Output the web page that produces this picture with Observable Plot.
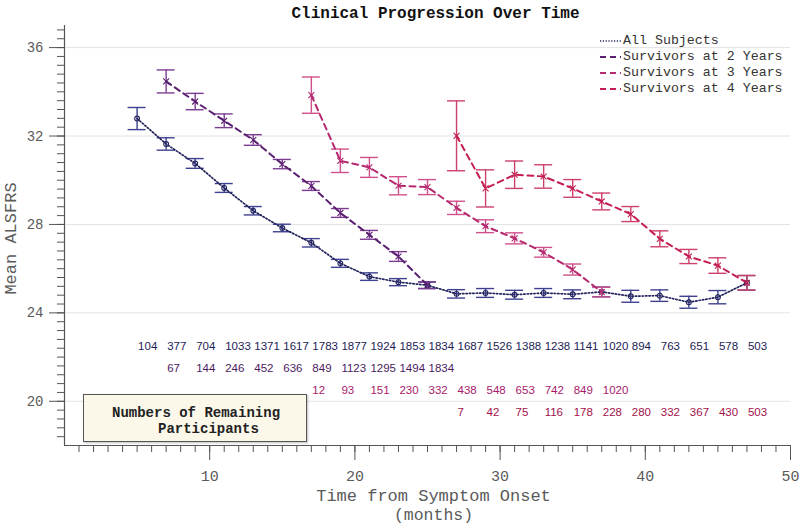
<!DOCTYPE html>
<html>
<head>
<meta charset="utf-8">
<script src="https://cdn.jsdelivr.net/npm/d3@7"></script>
<script src="https://cdn.jsdelivr.net/npm/@observablehq/plot@0.6"></script>
<style>
  body { margin: 0; background: #fff; }
  #wrap { position: relative; width: 800px; height: 525px; }
  #legend { position: absolute; left: 600px; top: 33px; font-family: "Liberation Mono", monospace; font-size: 13.3px; color: #333; }
  #legend .row { height: 16.1px; line-height: 16.1px; display: flex; align-items: center; white-space: pre; }
  #legend svg { width: 23px; height: 10px; margin-right: 0px; }
  #nbox { position: absolute; left: 83px; top: 394px; width: 222px; height: 46px; background: #fbf8ea;
          border: 1.5px solid #555; box-shadow: 1px 1px 2px rgba(0,0,0,0.25);
          font-family: "Liberation Mono", monospace; font-weight: bold; font-size: 14px; color: #222;
          white-space: pre; line-height: 16px; padding: 0; }
  #nbox div { position: absolute; }
</style>
</head>
<body>
<div id="wrap">
  <div id="chart"></div>
  <div id="legend"></div>
  <div id="nbox"><div style="left:28px;top:10px">Numbers of Remaining</div><div style="left:74px;top:26px">Participants</div></div>
</div>
<script>
// ---------- data ----------
const seriesNames = ["All Subjects", "Survivors at 2 Years", "Survivors at 3 Years", "Survivors at 4 Years"];

const monthsAll = [5,7,9,11,13,15,17,19,21,23,25,27,29,31,33,35,37,39,41,43,45,47];
const meanAll   = [32.79,31.64,30.76,29.65,28.62,27.84,27.17,26.24,25.64,25.39,25.25,24.86,24.90,24.82,24.90,24.84,24.95,24.75,24.78,24.48,24.71,25.36];
const errAll    = [0.50,0.28,0.22,0.20,0.19,0.17,0.19,0.18,0.17,0.16,0.15,0.19,0.20,0.20,0.20,0.20,0.22,0.27,0.26,0.27,0.30,0.33];
const nAll      = [104,377,704,1033,1371,1617,1783,1877,1924,1853,1834,1687,1526,1388,1238,1141,1020,894,763,651,578,503];

const months2 = [7,9,11,13,15,17,19,21,23,25];
const mean2   = [34.47,33.56,32.69,31.82,30.73,29.74,28.52,27.53,26.55,25.25];
const err2    = [0.52,0.37,0.31,0.24,0.21,0.20,0.20,0.20,0.22,0.15];
const n2      = [67,144,246,452,636,849,1123,1295,1494,1834];

const months3 = [17,19,21,23,25,27,29,31,33,35,37];
const mean3   = [33.85,30.88,30.58,29.75,29.69,28.75,27.92,27.37,26.74,25.96,24.94];
const err3    = [0.82,0.53,0.45,0.41,0.34,0.30,0.29,0.25,0.22,0.25,0.22];
const n3      = [12,93,151,230,332,438,548,653,742,849,1020];

const months4 = [27,29,31,33,35,37,39,41,43,45,47];
const mean4   = [32.01,29.63,30.25,30.17,29.63,29.04,28.47,27.35,26.55,26.14,25.36];
const err4    = [1.58,0.84,0.62,0.53,0.40,0.38,0.34,0.36,0.32,0.35,0.33];
const n4      = [7,42,75,116,178,228,280,332,367,430,503];

const yMajorTicks = [20,24,28,32,36];
const xMajorTicks = [10,20,30,40,50];

// ---------- styles ----------
const styles = [
  {line:"#23245e", bar:"#3d4190", text:"#1d1d56", dash:"1.4,2", width:1.7, symbol:"circle", rowY:22.5, legendDash:"1.2,1.6"},
  {line:"#5a206f", bar:"#7d3c92", text:"#4b1a63", dash:"6,4.5", width:2, symbol:"times", rowY:21.5, legendDash:"6,4"},
  {line:"#b5296f", bar:"#d0508b", text:"#a8196b", dash:"6,4.5", width:2, symbol:"times", rowY:20.5, legendDash:"6,4"},
  {line:"#c41f50", bar:"#cd4069", text:"#a3104a", dash:"6,4.5", width:2, symbol:"times", rowY:19.5, legendDash:"6,4"}
];
const CAP = 0.62; // half-width of error-bar caps (months)
const mono = "Liberation Mono, Courier New, monospace";

const raw = [
  [monthsAll, meanAll, errAll, nAll],
  [months2, mean2, err2, n2],
  [months3, mean3, err3, n3],
  [months4, mean4, err4, n4]
];
const series = raw.map(([m, mu, e, n], i) => ({
  name: seriesNames[i],
  style: styles[i],
  rows: m.map((x, j) => ({x, mean: mu[j], err: e[j], n: n[j]}))
}));

const seriesMarks = series.flatMap(s => {
  const st = s.style;
  return [
    Plot.ruleX(s.rows, {x: "x", y1: d => d.mean - d.err, y2: d => d.mean + d.err, stroke: st.bar, strokeWidth: 1.4}),
    Plot.ruleY(s.rows, {y: d => d.mean - d.err, x1: d => d.x - CAP, x2: d => d.x + CAP, stroke: st.bar, strokeWidth: 1.4}),
    Plot.ruleY(s.rows, {y: d => d.mean + d.err, x1: d => d.x - CAP, x2: d => d.x + CAP, stroke: st.bar, strokeWidth: 1.4}),
    Plot.line(s.rows, {x: "x", y: "mean", stroke: st.line, strokeWidth: st.width, strokeDasharray: st.dash}),
    Plot.dot(s.rows, {x: "x", y: "mean", symbol: st.symbol, r: st.symbol === "circle" ? 2.4 : 2.8, stroke: st.line, strokeWidth: 1.1, fill: "none"})
  ];
});

const countMarks = series.map(s =>
  Plot.text(s.rows, {x: "x", y: () => s.style.rowY, text: d => String(d.n), textAnchor: "start", dx: 1,
    fill: s.style.text, fontSize: 11.5, fontFamily: "Liberation Sans, Arial, sans-serif"})
);

const chart = Plot.plot({
  width: 800,
  height: 525,
  marginLeft: 64,
  marginRight: 10,
  marginTop: 25,
  marginBottom: 80,
  x: {domain: [0, 50]},
  y: {domain: [18, 37]},
  style: {fontFamily: mono, background: "#fff", overflow: "visible"},
  marks: [
    Plot.gridY(yMajorTicks, {stroke: "#e3e3e3", strokeOpacity: 1, strokeWidth: 1}),
    Plot.axisY({ticks: yMajorTicks, tickSize: 15, tickPadding: 6, fontSize: 14, fill: "#5a5a5a", stroke: "#555", label: null, tickFormat: d => String(d)}),
    Plot.axisY({ticks: d3.range(46, 93).map(i => i * 0.4), tickSize: 7, text: null, stroke: "#555", label: null}),
    Plot.axisX({ticks: xMajorTicks, tickSize: 15, tickPadding: 10, fontSize: 15, fill: "#5a5a5a", stroke: "#555", label: null, tickFormat: d => String(d)}),
    Plot.axisX({ticks: d3.range(1, 50), tickSize: 7, text: null, stroke: "#555", label: null}),
    Plot.ruleX([0], {stroke: "#555", strokeWidth: 1.2}),
    Plot.ruleY([18], {stroke: "#555", strokeWidth: 1.2}),
    ...seriesMarks,
    ...countMarks,
    Plot.text(["Clinical Progression Over Time"], {frameAnchor: "top", dy: -13, dx: 8, lineAnchor: "middle", fontWeight: "bold", fontSize: 16, fill: "#111", fontFamily: mono}),
    Plot.text(["Time from Symptom Onset"], {frameAnchor: "bottom", dy: 50, dx: 6, lineAnchor: "middle", fontSize: 17, fill: "#5a5a5a", fontFamily: mono}),
    Plot.text(["(months)"], {frameAnchor: "bottom", dy: 69, dx: 6, lineAnchor: "middle", fontSize: 16.5, fill: "#5a5a5a", fontFamily: mono}),
    Plot.text(["Mean ALSFRS"], {frameAnchor: "left", dx: -54, dy: 3, rotate: -90, textAnchor: "middle", lineAnchor: "middle", fontSize: 17, fill: "#5a5a5a", fontFamily: mono})
  ]
});
document.getElementById("chart").appendChild(chart);

// ---------- legend ----------
const legend = d3.select("#legend");
series.forEach(s => {
  const row = legend.append("div").attr("class", "row");
  const svg = row.append("svg").attr("viewBox", "0 0 23 10");
  svg.append("line").attr("x1", 0).attr("x2", 21).attr("y1", 5).attr("y2", 5)
    .attr("stroke", s.style.line).attr("stroke-width", s.style.symbol === "circle" ? 1.4 : 2)
    .attr("stroke-dasharray", s.style.legendDash);
  row.append("span").text(s.name);
});
</script>
</body>
</html>
